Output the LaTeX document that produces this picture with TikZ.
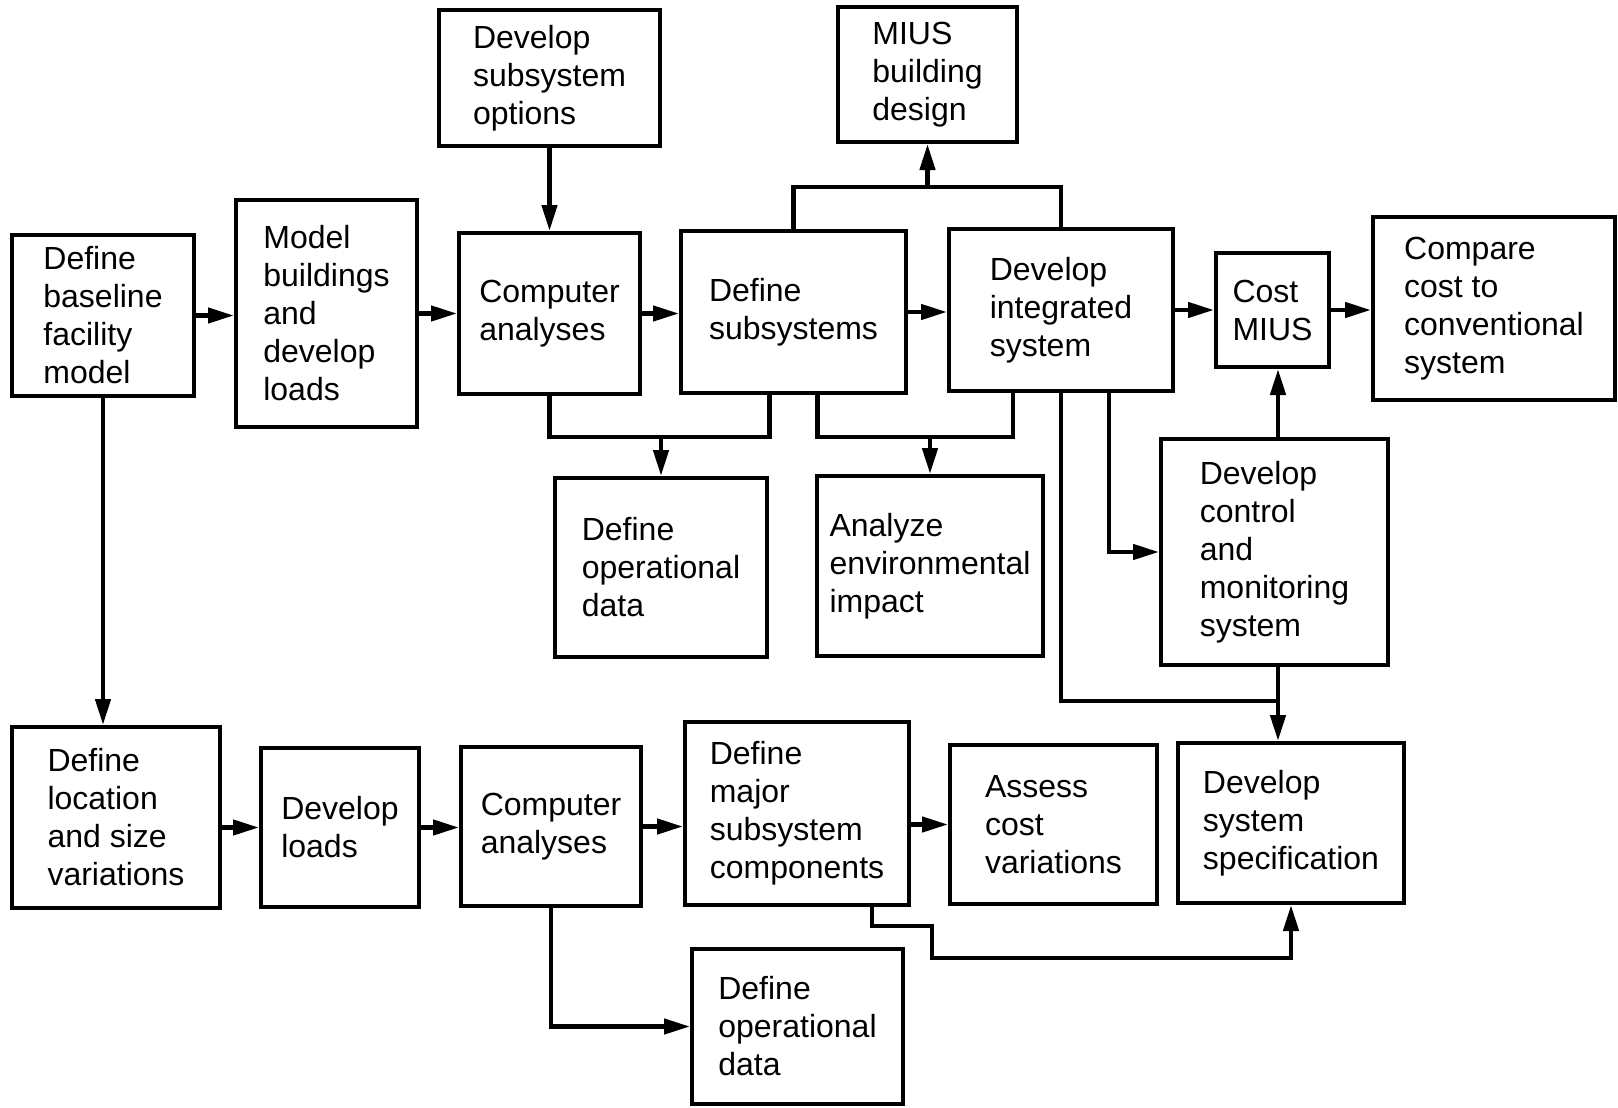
\documentclass[tikz,border=0pt]{standalone}
\usepackage{fontspec}
\setmainfont{Liberation Sans}
\usetikzlibrary{arrows.meta}
\begin{document}
\begin{tikzpicture}[x=1pt,y=-1pt,
  box/.style={draw, line width=4pt, align=left, inner sep=0pt, fill=white,
    font=\fontsize{32}{38}\selectfont},
  conn/.style={line width=4.5pt},
  arr/.style={conn, -{Triangle[length=26pt,width=15pt]}}]
\useasboundingbox[fill=white] (0,0) rectangle (1618,1108);

% top rows
\node[box, minimum width=182pt, minimum height=161pt] (base) at (103,315.5) {Define\\baseline\\facility\\model};
\node[box, minimum width=181pt, minimum height=227pt] (model) at (326.5,313.5) {Model\\buildings\\and\\develop\\loads};
\node[box, minimum width=221pt, minimum height=136pt] (opts) at (549.5,78) {Develop\\subsystem\\options};
\node[box, minimum width=181pt, minimum height=161pt] (comp1) at (549.5,313.5) {Computer\\analyses};
\node[box, minimum width=225pt, minimum height=162pt] (defsub) at (793.5,312) {Define\\subsystems};
\node[box, minimum width=179pt, minimum height=135pt] (miusbd) at (927.5,74.5) {MIUS\\building\\design};
\node[box, minimum width=224pt, minimum height=162pt] (integ) at (1061,310) {Develop\\integrated\\system};
\node[box, minimum width=113pt, minimum height=114pt] (cost) at (1272.5,310) {Cost\\MIUS};
\node[box, minimum width=242pt, minimum height=183pt] (compare) at (1494,308.5) {Compare\\cost to\\conventional\\system};
\node[box, minimum width=212pt, minimum height=179pt] (opdata1) at (661,567.5) {Define\\operational\\data};
\node[box, minimum width=226pt, minimum height=180pt] (env) at (930,566) {Analyze\\environmental\\impact};
\node[box, minimum width=227pt, minimum height=226pt] (control) at (1274.5,552) {Develop\\control\\and\\monitoring\\system};

% bottom rows
\node[box, minimum width=208pt, minimum height=181pt] (loc) at (116,817.5) {Define\\location\\and size\\variations};
\node[box, minimum width=158pt, minimum height=159pt] (loads) at (340,827.5) {Develop\\loads};
\node[box, minimum width=180pt, minimum height=159pt] (comp2) at (551,826.5) {Computer\\analyses};
\node[box, minimum width=224pt, minimum height=183pt] (major) at (797,813.5) {Define\\major\\subsystem\\components};
\node[box, minimum width=207pt, minimum height=159pt] (assess) at (1053.5,824.5) {Assess\\cost\\variations};
\node[box, minimum width=226pt, minimum height=160pt] (spec) at (1291,823) {Develop\\system\\specification};
\node[box, minimum width=211pt, minimum height=155pt] (opdata2) at (797.5,1026.5) {Define\\operational\\data};

% junction points
\coordinate (jtop) at (927.5,187);
\coordinate (jb1) at (661,437);
\coordinate (jb2) at (930,437);
\coordinate (jr) at (1278,701);
\coordinate (m2) at (932,958);

% top row flow
\draw[arr] (base.east) -- (base.east -| model.west);
\draw[arr] (model.east) -- (model.east -| comp1.west);
\draw[arr] (comp1.east) -- (comp1.east -| defsub.west);
\draw[arr] (defsub.east) -- (defsub.east -| integ.west);
\draw[arr] (integ.east) -- (integ.east -| cost.west);
\draw[arr] (cost.east) -- (cost.east -| compare.west);
\draw[arr] (opts.south) -- (comp1.north);

% to MIUS building design
\draw[conn] (defsub.north) |- (jtop) -| (integ.north);
\draw[arr] (jtop) -- (miusbd.south);

% to operational data
\draw[conn] (comp1.south) |- (jb1) -| ([xshift=-24pt]defsub.south);
\draw[arr] (jb1) -- (opdata1.north);

% to environmental impact
\draw[conn] ([xshift=24pt]defsub.south) |- (jb2) -| ([xshift=-48pt]integ.south);
\draw[arr] (jb2) -- (env.north);

% to control
\draw[arr] ([xshift=48pt]integ.south) |- (control.west);
\draw[arr] (jr |- control.north) -- (jr |- cost.south);

% to system specification
\draw[conn] (integ.south) |- (jr);
\draw[conn] (jr |- control.south) -- (jr);
\draw[arr] (jr) -- (jr |- spec.north);

% left vertical
\draw[arr] (base.south) -- (base.south |- loc.north);

% bottom row flow
\draw[arr] (loc.east |- loads.west) -- (loads.west);
\draw[arr] (loads.east) -- (loads.east -| comp2.west);
\draw[arr] (comp2.east) -- (comp2.east -| major.west);
\draw[arr] (major.east |- assess.west) -- (assess.west);
\draw[arr] (comp2.south) |- (opdata2.west);
\draw[arr] ([xshift=-39pt]major.south east) -- ++(0,19) -| (m2) -| (spec.south);
\end{tikzpicture}
\end{document}
